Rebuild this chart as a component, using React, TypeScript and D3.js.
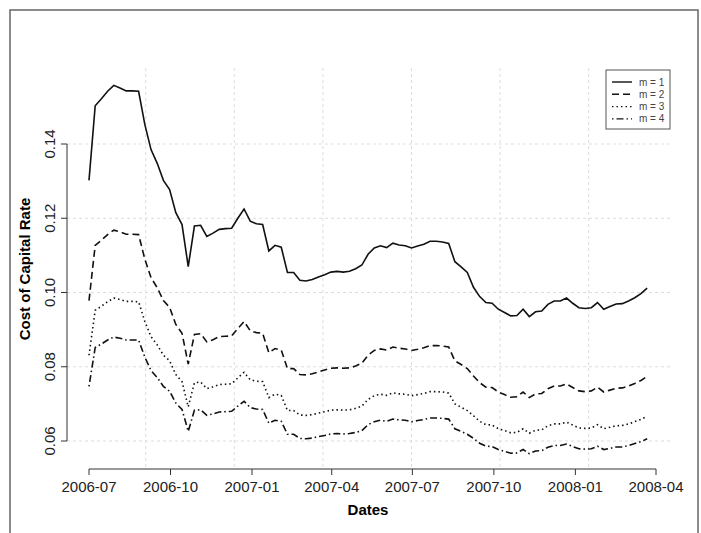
import * as d3 from "d3";

// weekly observations starting 2006-07-01
const startDate = new Date(2006, 6, 1);
const m1 = [
  0.1302, 0.1503, 0.1522, 0.1542, 0.1558, 0.1551, 0.1543, 0.1543, 0.1542, 0.1453,
  0.1385, 0.1348, 0.1302, 0.1277, 0.1215, 0.1183, 0.107, 0.1179, 0.1181, 0.1151,
  0.116, 0.117, 0.1172, 0.1173, 0.12, 0.1225, 0.1192, 0.1185, 0.1183, 0.1112,
  0.1127, 0.1122, 0.1054, 0.1054, 0.1033, 0.1031, 0.1035, 0.1042, 0.1048, 0.1055,
  0.1057, 0.1055, 0.1057, 0.1064, 0.1074, 0.1103, 0.112, 0.1126, 0.1121, 0.1133,
  0.1128, 0.1126, 0.112, 0.1125, 0.113, 0.1138, 0.1138, 0.1136, 0.1132, 0.1083,
  0.1069, 0.1054, 0.1014, 0.0989, 0.0973, 0.0971, 0.0955, 0.0946, 0.0937, 0.0938,
  0.0955, 0.0935, 0.0948, 0.095, 0.0968, 0.0977, 0.0977, 0.0985, 0.0971, 0.0959,
  0.0957, 0.0959, 0.0973, 0.0955, 0.0962, 0.0969, 0.097, 0.0977, 0.0986, 0.0997,
  0.1012,
];
const m2 = [
  0.0978, 0.1127, 0.1141, 0.1156, 0.1168, 0.1163, 0.1157, 0.1157, 0.1156, 0.109,
  0.104, 0.1013, 0.0978, 0.096, 0.0914, 0.089, 0.0807, 0.0887, 0.0889, 0.0867,
  0.0873, 0.0881, 0.0882, 0.0883, 0.0903, 0.0922, 0.0897, 0.0892, 0.089, 0.0838,
  0.0849, 0.0845, 0.0795, 0.0795, 0.0779, 0.0778, 0.0781, 0.0786, 0.0791, 0.0796,
  0.0797, 0.0796, 0.0797, 0.0802, 0.081, 0.0831, 0.0844, 0.0848, 0.0845, 0.0853,
  0.085, 0.0848, 0.0844, 0.0847, 0.0851, 0.0857, 0.0857, 0.0856, 0.0853, 0.0816,
  0.0806, 0.0795, 0.0775, 0.0757, 0.0745, 0.0744, 0.0732, 0.0725, 0.0718, 0.0719,
  0.0732, 0.0717, 0.0727, 0.0728, 0.0741, 0.0748, 0.0748, 0.0754, 0.0744, 0.0735,
  0.0733, 0.0735, 0.0745, 0.0732, 0.0737, 0.0742, 0.0743, 0.0748, 0.0755, 0.0763,
  0.0774,
];
const m3 = [
  0.0831, 0.0952, 0.0963, 0.0975, 0.0985, 0.0981, 0.0976, 0.0976, 0.0975, 0.0922,
  0.0881, 0.0859, 0.0831, 0.0816, 0.0779, 0.076, 0.0692, 0.0757, 0.0759, 0.0741,
  0.0746, 0.0752, 0.0753, 0.0754, 0.077, 0.0785, 0.0765, 0.0761, 0.076, 0.0717,
  0.0726, 0.0723, 0.0682, 0.0682, 0.067, 0.0669, 0.0671, 0.0675, 0.0679, 0.0683,
  0.0684, 0.0683, 0.0684, 0.0688, 0.0694, 0.0712, 0.0722, 0.0726, 0.0723, 0.073,
  0.0727, 0.0726, 0.0722, 0.0725, 0.0728, 0.0733, 0.0733, 0.0732, 0.0729, 0.07,
  0.0691, 0.0682, 0.0668, 0.0653, 0.0644, 0.0643, 0.0633, 0.0628, 0.0622, 0.0623,
  0.0633, 0.0621, 0.0629, 0.063, 0.0641, 0.0646, 0.0646, 0.0651, 0.0643, 0.0635,
  0.0634, 0.0635, 0.0644, 0.0633, 0.0637, 0.0641, 0.0642, 0.0646, 0.0652, 0.0658,
  0.0667,
];
const m4 = [
  0.0747, 0.0852, 0.0861, 0.0872, 0.088, 0.0877, 0.0872, 0.0872, 0.0872, 0.0826,
  0.079, 0.0771, 0.0747, 0.0734, 0.0702, 0.0685, 0.0626, 0.0683, 0.0684, 0.0669,
  0.0673, 0.0678, 0.0679, 0.068, 0.0694, 0.0707, 0.069, 0.0686, 0.0685, 0.0648,
  0.0656, 0.0653, 0.0618, 0.0618, 0.0607, 0.0606, 0.0608, 0.0612, 0.0615, 0.0619,
  0.062, 0.0619, 0.062, 0.0623, 0.0628, 0.0644, 0.0652, 0.0656, 0.0653, 0.0659,
  0.0657, 0.0656, 0.0652, 0.0655, 0.0658, 0.0662, 0.0662, 0.0661, 0.0659, 0.0633,
  0.0626, 0.0618, 0.0607, 0.0594, 0.0586, 0.0585, 0.0577, 0.0572, 0.0567, 0.0568,
  0.0577, 0.0566, 0.0573, 0.0574, 0.0583, 0.0588, 0.0588, 0.0592, 0.0585, 0.0579,
  0.0578, 0.0579, 0.0586, 0.0577, 0.058, 0.0584, 0.0584, 0.0588, 0.0593, 0.0598,
  0.0606,
];
const seriesNames = ["m = 1", "m = 2", "m = 3", "m = 4"];
const dashes = ["none", "7,4", "1.5,3", "1.5,3,7,3"];
const xTicks = ["2006-07", "2006-10", "2007-01", "2007-04", "2007-07", "2007-10", "2008-01", "2008-04"];
const yTicks = [0.06, 0.08, 0.1, 0.12, 0.14];
const gridDates = ["2006-09-03", "2006-12-12", "2007-03-22", "2007-06-30", "2007-10-08", "2008-01-16"];

const font = "'Liberation Sans', Arial, sans-serif";
const parse = d3.timeParse("%Y-%m-%d");

export default function App() {
  const x = d3.scaleTime().domain([startDate, new Date(2008, 3, 1)]).range([89, 656]);
  const y = d3.scaleLinear().domain([0.06, 0.14]).range([441, 144]);
  const all = [m1, m2, m3, m4];
  const line = d3
    .line<number>()
    .x((_, i) => x(d3.timeDay.offset(startDate, 7 * i)))
    .y((d) => y(d));
  const tickDates = xTicks.map((t) => parse(t + "-01")!);
  return (
    <svg width={701} height={533} style={{ position: "absolute", left: 0, top: 0, background: "white" }}>
      <rect x={10} y={10} width={688} height={530} fill="none" stroke="#666" strokeWidth={1.5} />
      {yTicks.map((t) => (
        <line key={t} x1={67} x2={670} y1={y(t)} y2={y(t)} stroke="#ddd" strokeDasharray="3,3" />
      ))}
      {gridDates.map((g) => (
        <line key={g} x1={x(parse(g)!)} x2={x(parse(g)!)} y1={68} y2={467} stroke="#ddd" strokeDasharray="3,3" />
      ))}
      {all.map((s, i) => (
        <path key={i} d={line(s) ?? undefined} fill="none" stroke="#111" strokeWidth={1.6} strokeDasharray={dashes[i]} />
      ))}
      {/* y axis */}
      <line x1={67} x2={67} y1={y(0.14)} y2={y(0.06)} stroke="#333" />
      {yTicks.map((t) => (
        <g key={t} transform={`translate(67,${y(t)})`}>
          <line x1={-6} x2={0} stroke="#333" />
          <text transform="rotate(-90)" x={0} y={-12} textAnchor="middle" fontFamily={font} fontSize={15} fill="#222">
            {d3.format(".2f")(t)}
          </text>
        </g>
      ))}
      {/* x axis */}
      <line x1={x(tickDates[0])} x2={x(tickDates[tickDates.length - 1])} y1={469} y2={469} stroke="#333" />
      {tickDates.map((d, i) => (
        <g key={i} transform={`translate(${x(d)},469)`}>
          <line y1={0} y2={6} stroke="#333" />
          <text y={23} textAnchor="middle" fontFamily={font} fontSize={15} fill="#222">
            {xTicks[i]}
          </text>
        </g>
      ))}
      <text x={368} y={515} textAnchor="middle" fontFamily={font} fontSize={15} fontWeight="bold">
        Dates
      </text>
      <text transform="translate(30,269) rotate(-90)" textAnchor="middle" fontFamily={font} fontSize={15} fontWeight="bold">
        Cost of Capital Rate
      </text>
      {/* legend */}
      <rect x={606} y={70} width={64} height={59} fill="white" stroke="#555" />
      {seriesNames.map((n, i) => (
        <g key={n} transform={`translate(612,${82 + i * 12.3})`}>
          <line x1={0} x2={20} stroke="#111" strokeWidth={1.4} strokeDasharray={dashes[i]} />
          <text x={27} y={3.5} fontFamily={font} fontSize={10} fill="#444">
            {n}
          </text>
        </g>
      ))}
    </svg>
  );
}
